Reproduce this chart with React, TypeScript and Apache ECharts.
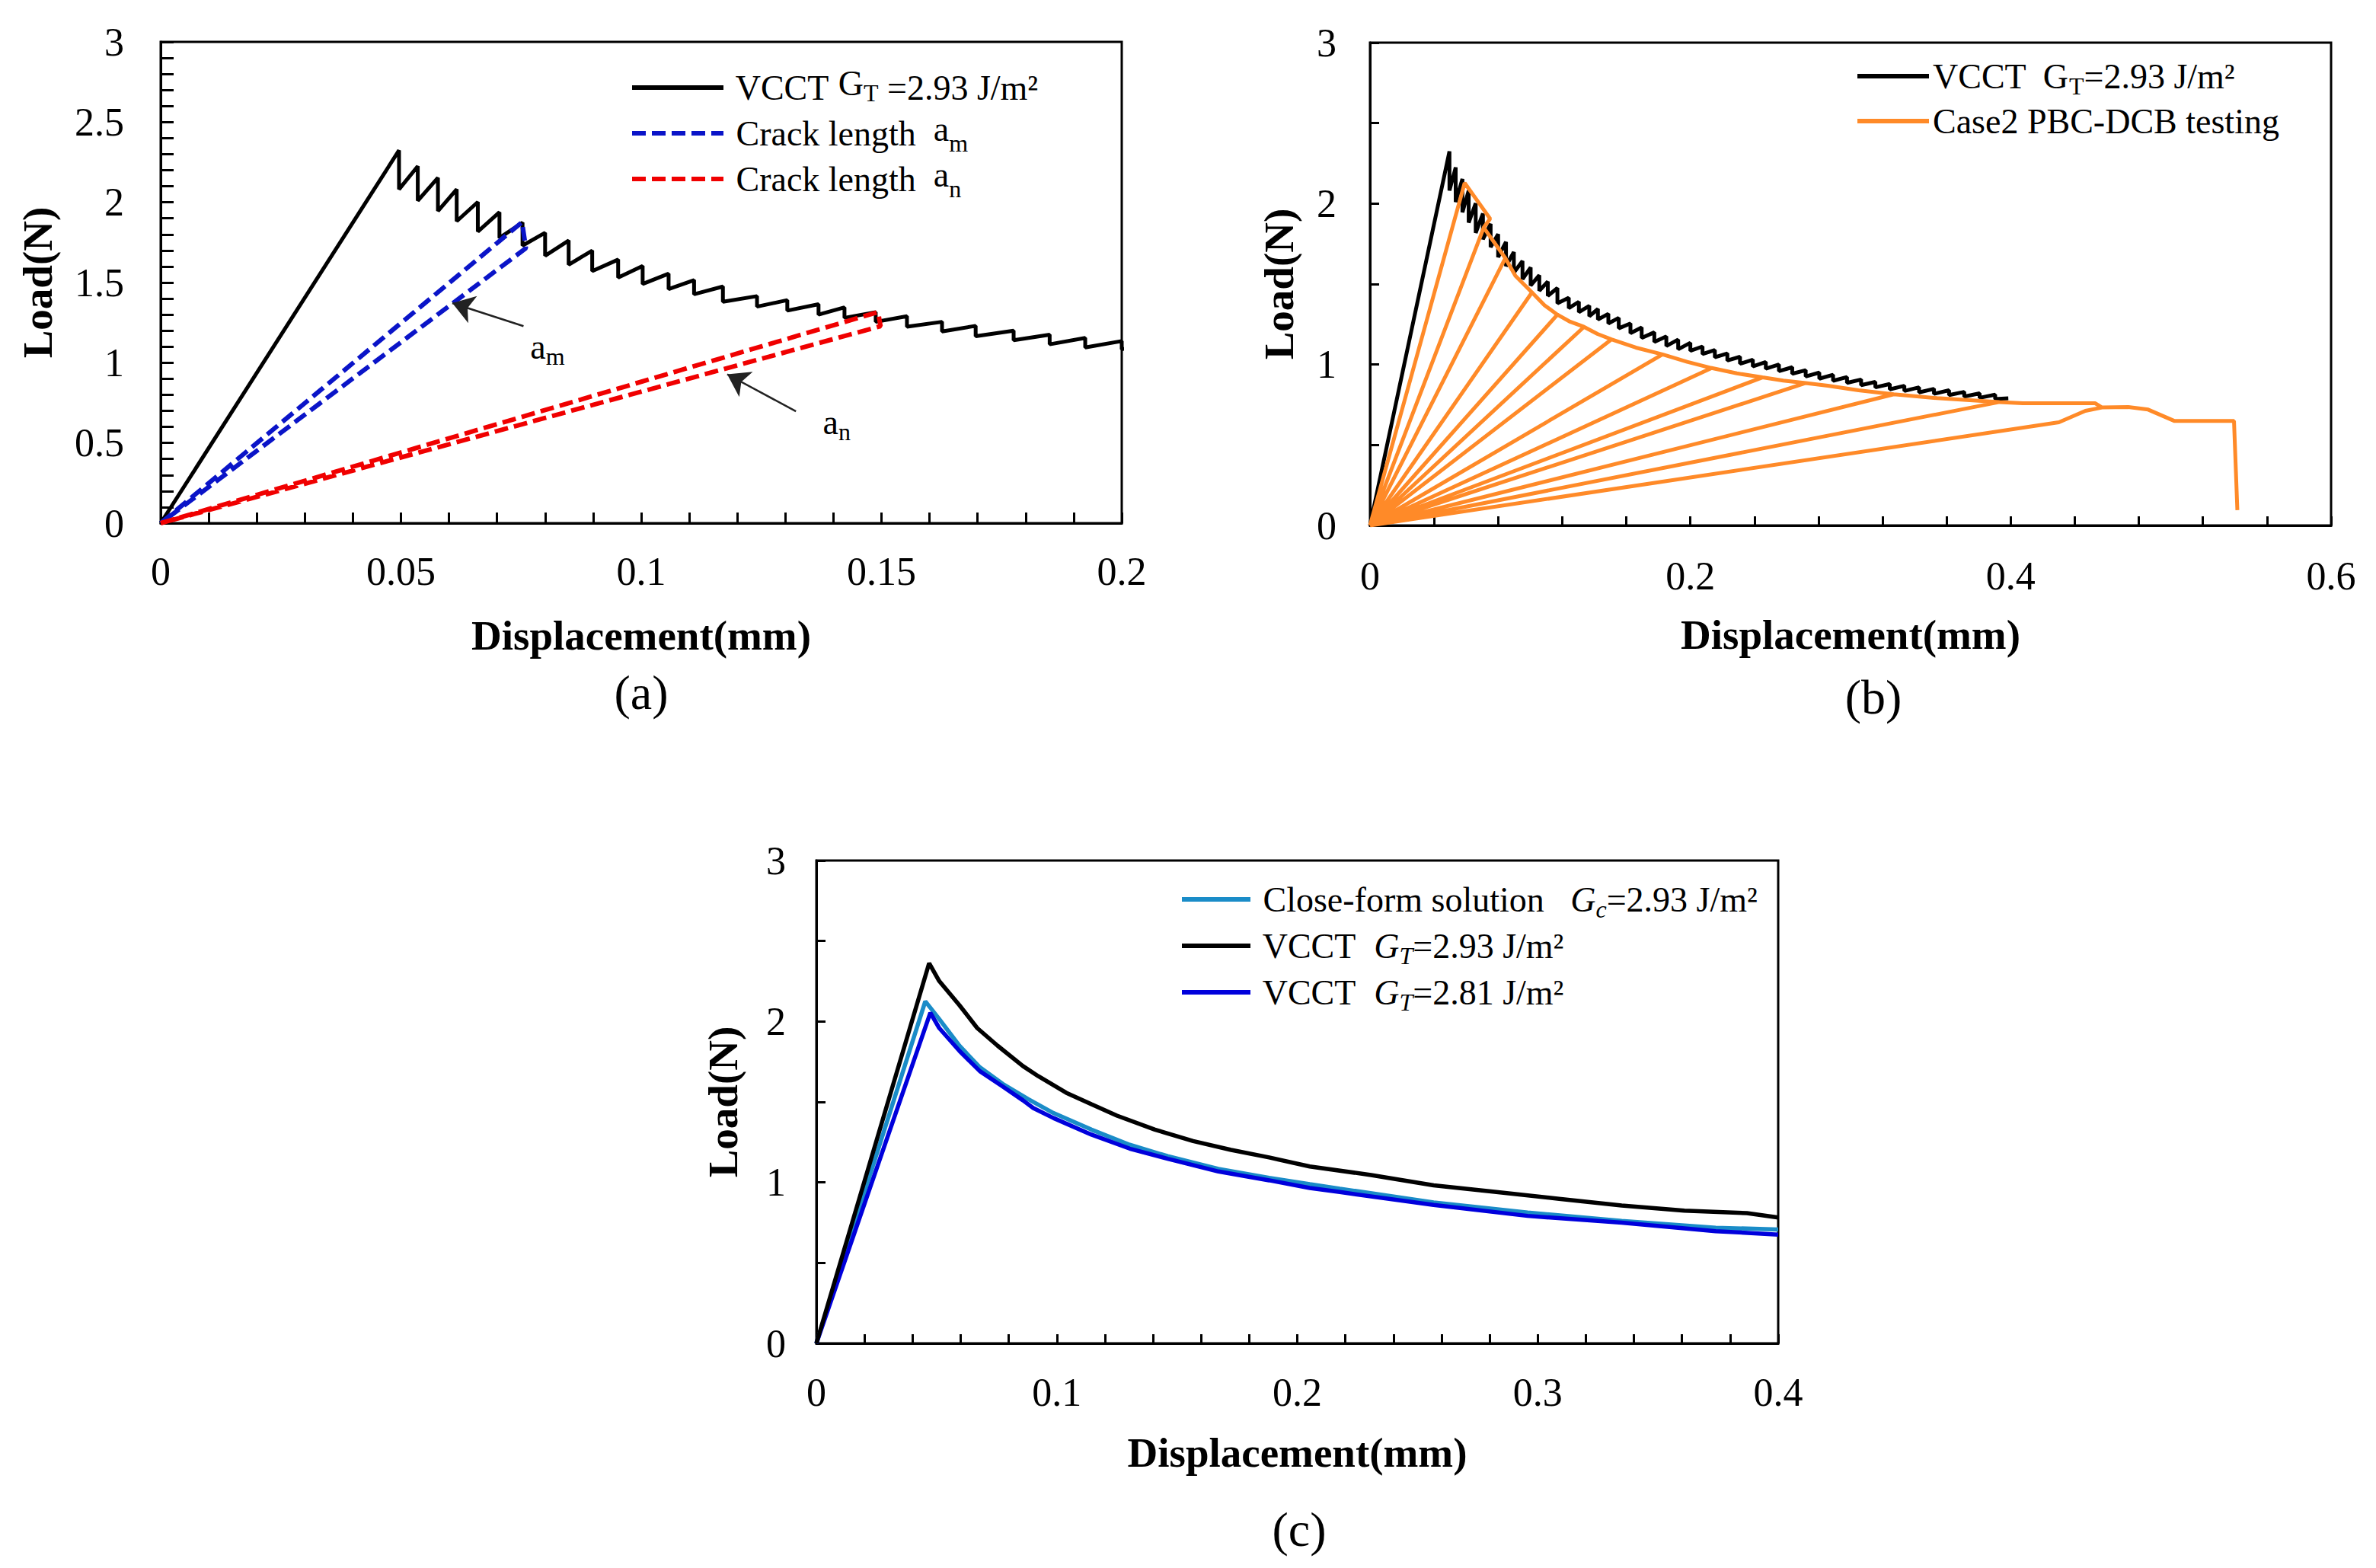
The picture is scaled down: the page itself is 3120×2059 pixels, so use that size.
import React, { useEffect, useRef } from 'react';
import * as echarts from 'echarts';

const FONT = '"Liberation Serif", "Times New Roman", Times, serif';

// ---------- (a) / (b) VCCT GT=2.93 sawtooth (peak x, peak load, load after drop)
const vcctPeakX = [
  0.0496, 0.0535, 0.0577, 0.0616, 0.066, 0.0705, 0.0753, 0.08, 0.0849, 0.0898,
  0.0952, 0.1003, 0.1057, 0.111, 0.117, 0.1241, 0.1304, 0.1369, 0.1423, 0.1488,
  0.1553, 0.1626, 0.1696, 0.1775, 0.185, 0.1924, 0.2, 0.2076, 0.2153, 0.2231,
  0.231, 0.239, 0.2471, 0.2553, 0.2636, 0.272, 0.2805, 0.2891, 0.2978, 0.3066,
  0.3155, 0.3245, 0.3336, 0.3428, 0.3521, 0.3615, 0.371, 0.3806, 0.3903,
];
const vcctPeakY = [
  2.324, 2.225, 2.153, 2.081, 2.002, 1.938, 1.874, 1.81, 1.762, 1.699,
  1.643, 1.603, 1.555, 1.515, 1.475, 1.415, 1.39, 1.365, 1.345, 1.315,
  1.29, 1.255, 1.23, 1.2, 1.175, 1.155, 1.135, 1.112, 1.09, 1.069,
  1.048, 1.03, 1.016, 1.0, 0.983, 0.965, 0.95, 0.936, 0.922, 0.907,
  0.892, 0.879, 0.868, 0.858, 0.849, 0.84, 0.83, 0.821, 0.813,
];
const vcctDropY = [
  2.081, 2.01, 1.946, 1.882, 1.818, 1.778, 1.73, 1.667, 1.611, 1.571,
  1.531, 1.491, 1.459, 1.427, 1.38, 1.35, 1.325, 1.3, 1.28, 1.255,
  1.225, 1.195, 1.165, 1.14, 1.115, 1.095, 1.085, 1.065, 1.045, 1.025,
  1.005, 0.988, 0.974, 0.959, 0.943, 0.926, 0.912, 0.899, 0.886, 0.872,
  0.858, 0.846, 0.836, 0.827, 0.818, 0.81, 0.801, 0.793, 0.786,
];
const vcctEnd = [0.3985, 0.79];

// ---------- (a) crack-length loading / unloading loops
const crackAm = [[0, 0], [0.0752, 1.876], [0.076, 1.714], [0, 0]];
const crackAn = [[0, 0], [0.1493, 1.316], [0.1498, 1.228], [0, 0]];
const arrowAm = [[0.0755, 1.228], [0.0607, 1.372]];
const arrowAn = [[0.1322, 0.697], [0.1179, 0.928]];
const labelAm = [0.0805, 1.1];
const labelAn = [0.1407, 0.63];

// ---------- (b) Case2 PBC-DCB testing, one array per loading cycle (each starts from origin)
const testCycles = [
  [[0.0591, 2.128], [0.075, 1.906], [0.071, 1.851]],
  [[0.071, 1.851], [0.0845, 1.661]],
  [[0.0845, 1.661], [0.0908, 1.551], [0.1011, 1.448]],
  [[0.1011, 1.448], [0.109, 1.368], [0.117, 1.31]],
  [[0.117, 1.31], [0.1249, 1.266], [0.1336, 1.234]],
  [[0.1336, 1.234], [0.142, 1.19], [0.1507, 1.156]],
  [[0.1507, 1.156], [0.166, 1.105], [0.1826, 1.063]],
  [[0.1826, 1.063], [0.198, 1.017], [0.2133, 0.978]],
  [[0.2133, 0.978], [0.229, 0.945], [0.245, 0.92]],
  [[0.245, 0.92], [0.258, 0.9], [0.272, 0.885]],
  [[0.272, 0.885], [0.2858, 0.868], [0.305, 0.84], [0.327, 0.815]],
  [[0.327, 0.815], [0.354, 0.791], [0.393, 0.767]],
  [[0.393, 0.767], [0.4075, 0.759], [0.4528, 0.759], [0.457, 0.733], [0.4466, 0.712], [0.4301, 0.641]],
  [[0.4301, 0.641], [0.4466, 0.712], [0.457, 0.733], [0.4734, 0.736], [0.4858, 0.72],
    [0.5023, 0.649], [0.5394, 0.649], [0.5415, 0.095]],
];

// ---------- (c)
const cClosedForm = [
  [0, 0], [0.0453, 2.125], [0.0511, 2.015], [0.0595, 1.849], [0.068, 1.715], [0.0775, 1.612],
  [0.088, 1.518], [0.0986, 1.431], [0.1144, 1.328], [0.1303, 1.234], [0.1461, 1.163],
  [0.1672, 1.084], [0.1883, 1.028], [0.2052, 0.989], [0.2177, 0.961], [0.2567, 0.876],
  [0.2958, 0.813], [0.3349, 0.761], [0.374, 0.718], [0.4, 0.708],
];
const cVcct293 = [
  [0, 0], [0.0469, 2.362], [0.0511, 2.251], [0.0595, 2.101], [0.0669, 1.959], [0.0754, 1.849],
  [0.0859, 1.723], [0.0923, 1.66], [0.1039, 1.557], [0.1144, 1.486], [0.125, 1.415],
  [0.1408, 1.328], [0.1567, 1.257], [0.1725, 1.202], [0.1883, 1.155], [0.2052, 1.099],
  [0.2307, 1.046], [0.2567, 0.982], [0.2828, 0.94], [0.3089, 0.898], [0.3349, 0.856],
  [0.361, 0.824], [0.387, 0.809], [0.4, 0.782],
];
const cVcct281 = [
  [0, 0], [0.0474, 2.054], [0.0511, 1.959], [0.0595, 1.817], [0.068, 1.691], [0.0775, 1.596],
  [0.0859, 1.51], [0.0902, 1.462], [0.0986, 1.4], [0.1144, 1.297], [0.1303, 1.21],
  [0.1461, 1.147], [0.1672, 1.068], [0.1883, 1.013], [0.2052, 0.965], [0.2177, 0.94],
  [0.2567, 0.86], [0.2958, 0.792], [0.3349, 0.75], [0.374, 0.697], [0.4, 0.676],
];

const legendText: Record<string, string> = {
  'a-vcct': '{n| VCCT }{gr|G}{st|T}{n| =2.93 J/m²}',
  'a-am': '{n| Crack length  }{ar|a}{sub|m}',
  'a-an': '{n| Crack length  }{ar|a}{sub|n}',
  'b-vcct': '{n|VCCT  G}{sub|T}{n|=2.93 J/m²}',
  'b-test': '{n|Case2 PBC-DCB testing}',
  'c-cf': '{n| Close-form solution   }{i|G}{isub|c}{n|=2.93 J/m²}',
  'c-v293': '{n| VCCT  }{i|G}{isub|T}{n|=2.93 J/m²}',
  'c-v281': '{n| VCCT  }{i|G}{isub|T}{n|=2.81 J/m²}',
};

const LH = 58;
const rich = {
  n: { fontFamily: FONT, fontSize: 46, lineHeight: LH, color: '#000' },
  sub: { fontFamily: FONT, fontSize: 32, lineHeight: 26, verticalAlign: 'bottom', color: '#000' },
  gr: { fontFamily: FONT, fontSize: 46, lineHeight: 36, verticalAlign: 'top', color: '#000' },
  st: { fontFamily: FONT, fontSize: 32, lineHeight: 26, verticalAlign: 'bottom', padding: [0, 0, 6, 0], color: '#000' },
  ar: { fontFamily: FONT, fontSize: 46, lineHeight: 38, verticalAlign: 'top', color: '#000' },
  i: { fontFamily: FONT, fontSize: 46, lineHeight: LH, fontStyle: 'italic', color: '#000' },
  isub: { fontFamily: FONT, fontSize: 32, lineHeight: 26, verticalAlign: 'bottom', fontStyle: 'italic', color: '#000' },
};

const labelEvery = (step: number) => (v: number) => {
  const k = v / step;
  return Math.abs(k - Math.round(k)) < 1e-6 ? String(parseFloat(v.toFixed(4))) : '';
};

function buildVcct(): number[][] {
  const pts: number[][] = [[0, 0]];
  vcctPeakX.forEach((x, i) => {
    pts.push([x, vcctPeakY[i]], [x, vcctDropY[i]]);
  });
  pts.push(vcctEnd);
  return pts;
}

function buildTest(): number[][] {
  const pts: number[][] = [];
  testCycles.forEach((cyc) => {
    pts.push([0, 0], ...cyc);
  });
  return pts;
}

function makeX(grid: number, max: number, step: number, labelStep: number, margin: number, gap: number, tick: number) {
  return {
    type: 'value', gridIndex: grid, min: 0, max, interval: step,
    axisLine: { show: true, onZero: false, lineStyle: { color: '#000', width: 3 } },
    axisTick: { show: true, inside: true, length: tick, lineStyle: { color: '#000', width: 3 } },
    splitLine: { show: false },
    axisLabel: { formatter: labelEvery(labelStep), fontFamily: FONT, fontSize: 52, color: '#000', margin },
    name: 'Displacement(mm)', nameLocation: 'middle', nameGap: gap,
    nameTextStyle: { fontFamily: FONT, fontSize: 55, fontWeight: 'bold', color: '#000' },
  };
}

function makeY(grid: number, step: number, labelStep: number, margin: number, gap: number, tick: number) {
  return {
    type: 'value', gridIndex: grid, min: 0, max: 3, interval: step,
    axisLine: { show: true, onZero: false, lineStyle: { color: '#000', width: 3 } },
    axisTick: { show: true, inside: true, length: tick, lineStyle: { color: '#000', width: 3 } },
    splitLine: { show: false },
    axisLabel: { formatter: labelEvery(labelStep), fontFamily: FONT, fontSize: 52, color: '#000', margin },
    name: 'Load(N)', nameLocation: 'middle', nameRotate: 90, nameGap: gap,
    nameTextStyle: { fontFamily: FONT, fontSize: 55, fontWeight: 'bold', color: '#000' },
  };
}

function makeLegend(left: number, top: number, itemWidth: number, itemGap: number, data: string[]) {
  return {
    left, top, orient: 'vertical', padding: 0, itemWidth, itemHeight: 14, itemGap,
    selectedMode: false, data,
    formatter: (name: string) => legendText[name] || name,
    lineStyle: { width: 6 },
    itemStyle: { opacity: 0 },
    textStyle: { fontFamily: FONT, fontSize: 46, lineHeight: LH, color: '#000', rich },
  };
}

const lineSeries = (name: string, xi: number, data: number[][], color: string, width: number, type: any = 'solid') => ({
  type: 'line', name, xAxisIndex: xi, yAxisIndex: xi, data,
  symbol: 'none', showSymbol: false, silent: true, clip: true,
  lineStyle: { color, width, type },
  itemStyle: { color },
});

const panelLabel = (text: string, x: number, y: number) => ({
  type: 'text', x, y,
  style: {
    text, fontFamily: FONT, fontSize: 64, fill: '#000',
    align: 'center', verticalAlign: 'middle', textAlign: 'center', textVerticalAlign: 'middle',
  },
});

export default function App() {
  const ref = useRef<HTMLDivElement>(null);
  useEffect(() => {
    if (!ref.current) return;
    const chart = echarts.init(ref.current, undefined, { renderer: 'svg' });
    const vcct = buildVcct();
    const aVcct: any = lineSeries('a-vcct', 0, vcct, '#000', 5);
    aVcct.markLine = {
      silent: true, animation: false,
      symbol: ['none', 'arrow'], symbolSize: 28,
      label: { show: false },
      lineStyle: { color: '#222', width: 2.5, type: 'solid' },
      data: [
        [{ coord: arrowAm[0] }, { coord: arrowAm[1] }],
        [{ coord: arrowAn[0] }, { coord: arrowAn[1] }],
      ],
    };
    aVcct.markPoint = {
      silent: true, animation: false, symbol: 'circle', symbolSize: 1,
      itemStyle: { color: 'rgba(0,0,0,0)' },
      label: {
        show: true, position: 'inside', color: '#000',
        formatter: (p: any) => '{n|a}{sub|' + p.name + '}', rich,
      },
      data: [
        { name: 'm', coord: labelAm },
        { name: 'n', coord: labelAn },
      ],
    };

    const option: any = {
      animation: false,
      backgroundColor: '#fff',
      grid: [
        { left: 211, top: 55, width: 1262, height: 632, show: true, borderColor: '#000', borderWidth: 3, backgroundColor: 'transparent' },
        { left: 1799, top: 56, width: 1262, height: 634, show: true, borderColor: '#000', borderWidth: 3, backgroundColor: 'transparent' },
        { left: 1072, top: 1130, width: 1263, height: 634, show: true, borderColor: '#000', borderWidth: 3, backgroundColor: 'transparent' },
      ],
      xAxis: [
        makeX(0, 0.2, 0.01, 0.05, 37, 120, 14),
        makeX(1, 0.6, 0.04, 0.2, 40, 116, 12),
        makeX(2, 0.4, 0.02, 0.1, 38, 116, 12),
      ],
      yAxis: [
        makeY(0, 0.1, 0.5, 48, 134, 17),
        makeY(1, 0.5, 1, 44, 92, 12),
        makeY(2, 0.5, 1, 40, 95, 12),
      ],
      legend: [
        makeLegend(827, 86, 120, 2, ['a-vcct', 'a-am', 'a-an']),
        makeLegend(2436, 71, 94, 1, ['b-vcct', 'b-test']),
        makeLegend(1549, 1152, 90, 3, ['c-cf', 'c-v293', 'c-v281']),
      ],
      series: [
        aVcct,
        lineSeries('a-am', 0, crackAm, '#0a14c8', 6, [18, 8]),
        lineSeries('a-an', 0, crackAn, '#f00000', 6, [18, 8]),
        lineSeries('b-vcct', 1, vcct, '#000', 5),
        lineSeries('b-test', 1, buildTest(), '#ff8a28', 5),
        lineSeries('c-cf', 2, cClosedForm, '#1a8cc8', 5.5),
        lineSeries('c-v281', 2, cVcct281, '#0000dc', 5.5),
        lineSeries('c-v293', 2, cVcct293, '#000', 5.5),
      ],
      graphic: [
        panelLabel('(a)', 842, 909),
        panelLabel('(b)', 2460, 915),
        panelLabel('(c)', 1706, 2008),
      ],
    };
    chart.setOption(option);
    return () => chart.dispose();
  }, []);
  return (
    <div
      ref={ref}
      style={{ position: 'absolute', left: 0, top: 0, width: '3120px', height: '2059px', background: '#fff' }}
    />
  );
}
